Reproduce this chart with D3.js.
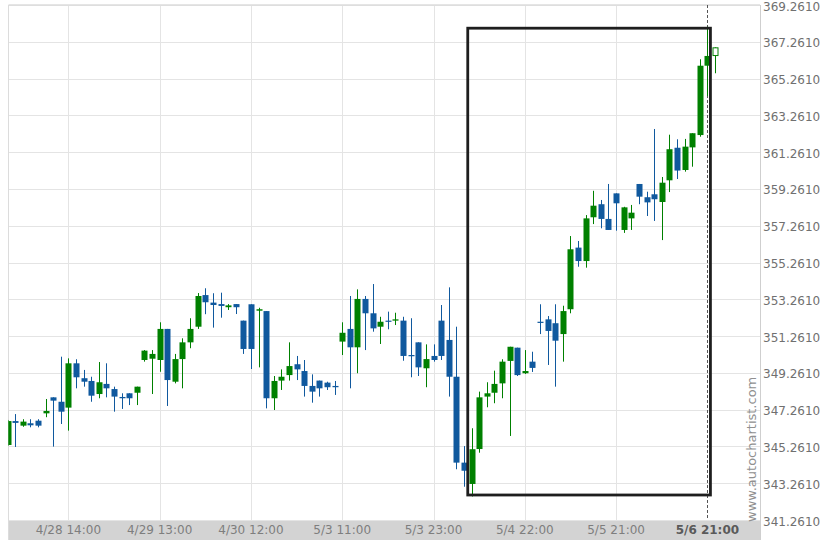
<!DOCTYPE html>
<html><head><meta charset="utf-8">
<script src="https://cdn.jsdelivr.net/npm/d3@7"></script>
<style>html,body{margin:0;padding:0;background:#fff;}svg{display:block;}</style>
</head><body>
<svg id="c" width="822" height="548"></svg>
<script>
const opens = [345.34,346.64,346.39,346.52,346.66,347.06,347.93,347.69,347.37,349.78,348.97,348.82,348.11,348.66,348.38,347.95,348.15,348.18,349.96,350.03,349.96,351.65,348.78,350.01,350.92,351.77,353.49,353.08,353.00,352.83,353.00,352.10,352.99,352.64,352.62,347.88,348.84,349.14,349.73,349.36,348.55,348.84,348.73,348.55,350.96,351.65,350.65,353.28,352.50,351.77,352.10,352.10,352.10,350.23,350.92,349.51,350.18,352.10,351.05,349.05,344.38,343.22,345.12,347.97,348.18,348.69,349.91,350.63,349.24,349.87,352.04,352.17,351.96,351.37,352.72,356.07,355.34,357.72,358.43,357.63,359.02,357.03,357.66,359.53,358.81,358.97,358.55,359.73,361.50,360.29,361.52,362.19,365.96,366.54];
const highs = [346.70,347.02,346.74,346.74,346.74,347.84,347.93,350.14,350.05,350.00,349.42,349.05,349.85,349.78,348.51,348.15,348.15,348.51,350.50,350.50,352.01,351.65,350.29,351.14,352.23,353.60,353.86,353.59,353.62,353.00,353.00,352.10,352.99,352.80,352.62,349.09,349.45,350.92,350.18,349.96,349.18,348.84,348.78,348.82,352.01,353.44,353.80,353.44,354.09,352.31,352.59,352.53,352.31,352.23,350.92,350.81,350.81,352.95,353.91,351.77,345.28,346.25,348.24,348.75,349.38,350.00,350.68,350.63,350.50,350.41,352.99,352.35,352.99,352.91,356.70,356.43,357.84,359.16,358.66,359.53,359.02,358.29,358.39,359.53,359.11,362.52,359.91,362.21,361.96,361.98,362.29,366.31,368.08,366.96];
const lows = [345.30,345.23,346.33,346.30,346.30,346.85,345.25,346.48,346.12,348.42,348.51,347.69,347.88,347.93,347.15,347.30,347.51,347.51,349.87,348.11,349.32,347.46,348.69,348.42,350.60,351.65,352.45,351.72,352.26,352.68,352.46,350.29,349.47,349.56,347.33,347.24,348.33,348.84,348.87,347.97,347.64,347.97,348.33,348.06,350.23,348.42,349.24,350.50,351.50,350.83,351.63,351.86,349.92,349.02,349.09,348.48,349.87,349.96,347.97,344.02,343.07,342.54,344.92,347.39,347.61,347.88,345.83,349.09,349.20,349.31,351.37,349.69,348.51,349.87,352.50,355.03,354.98,357.35,357.12,357.03,356.99,356.87,357.03,358.43,357.79,357.52,356.48,359.09,359.80,360.20,360.47,362.10,364.31,365.55];
const closes = [346.64,346.54,346.61,346.41,346.39,347.19,347.75,347.15,349.78,349.02,348.78,348.02,348.75,348.42,347.97,347.88,347.88,348.51,350.47,350.29,351.65,348.87,350.01,350.92,351.65,353.44,353.10,352.95,352.90,352.93,352.83,350.56,350.56,352.72,347.88,348.82,349.05,349.63,349.45,348.55,348.24,348.42,348.48,348.48,351.44,350.65,353.28,352.50,351.68,352.04,352.04,352.17,350.18,350.18,349.56,350.01,349.96,350.18,349.05,344.38,343.94,345.11,347.93,348.15,348.66,349.87,350.68,349.14,349.36,349.53,351.99,351.54,351.01,352.62,355.98,355.34,357.66,358.35,357.63,357.03,358.48,358.26,357.97,358.84,358.53,358.70,359.60,361.42,360.26,361.56,362.29,365.96,366.49,366.96];
const tickBars = [8,20,32,44,56,68,80,92];
const tickLabels = ["4/28 14:00","4/29 13:00","4/30 12:00","5/3 11:00","5/3 23:00","5/4 22:00","5/5 21:00","5/6 21:00"];
const yTicks = [341.261,343.261,345.261,347.261,349.261,351.261,353.261,355.261,357.261,359.261,361.261,363.261,365.261,367.261,369.261];
const boxStart = 60.5, boxEnd = 92.4, boxHigh = 368.0, boxLow = 342.62;
const markerBar = 92;

const svg = d3.select("#c");
const L = 8.5, R = 760, T = 5, B = 520, BB = 540;
const x = d3.scaleLinear().domain([0, 93]).range([7.5, 715]);
const y = d3.scaleLinear().domain([341.261, 369.261]).range([B, T]);
const GREEN = "#008000", BLUE = "#10599e";

const defs = svg.append("defs");
defs.append("clipPath").attr("id","plot").append("rect").attr("x",L).attr("y",T).attr("width",R-L).attr("height",B-T);

// band
svg.append("rect").attr("x",L-0.5).attr("y",B).attr("width",R-L+0.5).attr("height",BB-B).attr("fill","#d3d3d3");

// grid
const g = svg.append("g");
g.selectAll("line.h").data(yTicks).join("line")
  .attr("x1",L).attr("x2",R).attr("y1",d=>Math.round(y(d))+0.5).attr("y2",d=>Math.round(y(d))+0.5)
  .attr("stroke","#e4e4e4").attr("stroke-width",1);
g.selectAll("line.v").data(tickBars.filter(b=>b!==markerBar)).join("line")
  .attr("x1",d=>Math.round(x(d))+0.5).attr("x2",d=>Math.round(x(d))+0.5).attr("y1",T).attr("y2",B)
  .attr("stroke","#e4e4e4").attr("stroke-width",1);
// borders
svg.append("line").attr("x1",L).attr("x2",L).attr("y1",T).attr("y2",BB).attr("stroke","#dcdcdc");
svg.append("line").attr("x1",L).attr("x2",R).attr("y1",T).attr("y2",T).attr("stroke","#dcdcdc").attr("stroke-width",1.5);
svg.append("line").attr("x1",R+0.5).attr("x2",R+0.5).attr("y1",T).attr("y2",BB).attr("stroke","#cfcfcf");

// dashed marker
svg.append("line").attr("x1",Math.round(x(markerBar))+0.5).attr("x2",Math.round(x(markerBar))+0.5)
  .attr("y1",T).attr("y2",B).attr("stroke","#555").attr("stroke-dasharray","3,2");

// candles
const bars = d3.range(opens.length).map(i=>({i,o:opens[i],h:highs[i],l:lows[i],c:closes[i]}));
const cg = svg.append("g").attr("clip-path","url(#plot)");
const last = bars.length-1;
cg.selectAll("line.w").data(bars).join("line")
  .attr("x1",d=>Math.round(x(d.i))+0.5).attr("x2",d=>Math.round(x(d.i))+0.5)
  .attr("y1",d=>y(d.h)).attr("y2",d=>d.i===last?y(Math.min(d.o,d.c)):y(d.l))
  .attr("stroke",d=>d.c>=d.o?GREEN:BLUE).attr("stroke-width",1);
cg.selectAll("line.w2").data(bars.filter(d=>d.i===last)).join("line")
  .attr("x1",d=>Math.round(x(d.i))+0.5).attr("x2",d=>Math.round(x(d.i))+0.5)
  .attr("y1",d=>y(Math.min(d.o,d.c))).attr("y2",d=>y(d.l)).attr("stroke",GREEN);
cg.selectAll("rect.b").data(bars).join("rect")
  .attr("x",d=>Math.round(x(d.i))-2.5+(d.i===last?0.5:0)).attr("width",d=>d.i===last?5:6)
  .attr("y",d=>y(Math.max(d.o,d.c))+(d.i===last?0.5:0))
  .attr("height",d=>Math.max(1.2,Math.abs(y(d.o)-y(d.c))))
  .attr("fill",d=>d.i===last?"#fff":(d.c>=d.o?GREEN:BLUE))
  .attr("stroke",d=>d.i===last?GREEN:"none").attr("stroke-width",1);

// box
svg.append("rect").attr("x",x(boxStart)).attr("y",y(boxHigh))
  .attr("width",x(boxEnd)-x(boxStart)).attr("height",y(boxLow)-y(boxHigh))
  .attr("fill","none").attr("stroke","#1e1e1e").attr("stroke-width",2.8);

// y labels
svg.selectAll("text.yl").data(yTicks).join("text")
  .attr("x",763).attr("y",d=>y(d)+2).attr("dominant-baseline","middle")
  .attr("font-family","DejaVu Sans").attr("font-size",12).attr("fill","#707070")
  .text(d=>d.toFixed(4));

// x labels
svg.selectAll("text.xl").data(tickBars).join("text")
  .attr("x",d=>x(d)).attr("y",530).attr("dominant-baseline","middle").attr("text-anchor","middle")
  .attr("font-family","DejaVu Sans").attr("font-size",12)
  .attr("font-weight",(d,i)=>i===tickBars.length-1?"bold":"normal")
  .attr("fill",(d,i)=>i===tickBars.length-1?"#5a5a5a":"#7e7e7e")
  .text((d,i)=>tickLabels[i]);

// watermark
svg.append("text").attr("transform","translate(756,522) rotate(-90)")
  .attr("font-family","DejaVu Sans").attr("font-size",13).attr("fill","#909090")
  .text("www.autochartist.com");
</script>
</body></html>
